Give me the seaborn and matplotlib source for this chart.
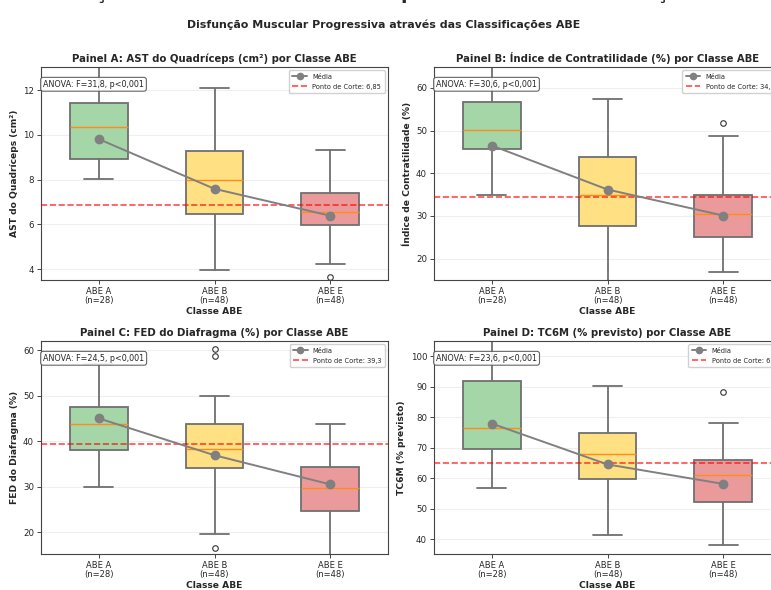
import numpy as np
import pandas as pd
import matplotlib
matplotlib.use("Agg")
import matplotlib.pyplot as plt
import seaborn as sns

# ---------------- data ----------------
categories = ["ABE A", "ABE B", "ABE E"]
n_counts = [28, 48, 48]
box_colors = ["#a5d6a7", "#ffe082", "#ea9a9b"]

# five-number summaries per class: [lower whisker, Q1, median, Q3, upper whisker]
ast_stats = [[8.01, 8.92, 10.33, 11.43, 13.3],
             [3.95, 6.45, 7.97, 9.29, 12.10],
             [4.25, 5.96, 6.57, 7.42, 9.33]]
ast_outliers = [[], [], [3.64]]
ast_means = [9.81, 7.59, 6.39]
ast_cut = 6.85

ic_stats = [[34.9, 45.8, 50.1, 56.7, 66.0],
            [13.5, 27.6, 35.0, 43.8, 57.4],
            [16.8, 25.0, 30.4, 35.0, 48.8]]
ic_outliers = [[], [], [51.8]]
ic_means = [46.5, 36.2, 30.1]
ic_cut = 34.5

fed_stats = [[29.9, 38.1, 43.8, 47.5, 57.0],
             [19.7, 34.0, 38.3, 43.8, 50.0],
             [12.0, 24.6, 29.6, 34.4, 43.8]]
fed_outliers = [[], [60.3, 58.7, 16.6], []]
fed_means = [45.0, 36.9, 30.5]
fed_cut = 39.3

tc_stats = [[56.9, 69.7, 76.5, 91.8, 107.0],
            [41.4, 59.6, 67.9, 74.9, 90.1],
            [37.9, 52.1, 60.9, 65.8, 78.1]]
tc_outliers = [[], [], [88.1]]
tc_means = [77.9, 64.5, 58.1]
tc_cut = 65

panel_titles = ["Painel A: AST do Quadríceps (cm²) por Classe ABE",
                "Painel B: Índice de Contratilidade (%) por Classe ABE",
                "Painel C: FED do Diafragma (%) por Classe ABE",
                "Painel D: TC6M (% previsto) por Classe ABE"]
y_labels = ["AST do Quadríceps (cm²)", "Índice de Contratilidade (%)",
            "FED do Diafragma (%)", "TC6M (% previsto)"]
anova_texts = ["ANOVA: F=31,8, p<0,001", "ANOVA: F=30,6, p<0,001",
               "ANOVA: F=24,5, p<0,001", "ANOVA: F=23,6, p<0,001"]
cut_labels = ["Ponto de Corte: 6,85", "Ponto de Corte: 34,5",
              "Ponto de Corte: 39,3", "Ponto de Corte: 65"]
y_limits = [(3.52, 13.03), (15.0, 64.9), (15.2, 62.0), (35.1, 105.0)]
y_ticks = [[4, 6, 8, 10, 12], [20, 30, 40, 50, 60],
           [20, 30, 40, 50, 60], [40, 50, 60, 70, 80, 90, 100]]

main_title = "Avaliação Muscular Periférica e Respiratória entre Classificações ABE"
sub_title = "Disfunção Muscular Progressiva através das Classificações ABE"


def summary_frame(stats, outliers):
    """Long-form table whose quartiles/whiskers equal the read summaries."""
    rows = []
    for cat, s, outs in zip(categories, stats, outliers):
        lo, q1, med, q3, hi = s
        vals = [lo] + [q1] * 5 + [med] * 5 + [q3] * 5 + [hi] + list(outs)
        rows += [(cat, v) for v in vals]
    return pd.DataFrame(rows, columns=["Classe", "Valor"])


sns.set_style("ticks")
plt.rcParams["font.family"] = ["DejaVu Sans"]

fig = plt.figure(figsize=(7.71, 5.90), dpi=100)

W = 347 / 771
H = 213 / 590
positions = [(41 / 771, 310 / 590), (434 / 771, 310 / 590),
             (41 / 771, 36 / 590), (434 / 771, 36 / 590)]

panels = [(ast_stats, ast_outliers, ast_means, ast_cut),
          (ic_stats, ic_outliers, ic_means, ic_cut),
          (fed_stats, fed_outliers, fed_means, fed_cut),
          (tc_stats, tc_outliers, tc_means, tc_cut)]

palette = dict(zip(categories, box_colors))
tick_labels = [f"{c}\n(n={n})" for c, n in zip(categories, n_counts)]

for i, ((stats, outs, means, cut), (l, b)) in enumerate(zip(panels, positions)):
    ax = fig.add_axes([l, b, W, H])
    df = summary_frame(stats, outs)
    sns.boxplot(data=df, x="Classe", y="Valor", hue="Classe", order=categories,
                palette=palette, saturation=1, width=0.5, legend=False,
                linecolor="#707070", linewidth=1.3,
                medianprops=dict(color="#ff8c1a", linewidth=1.0),
                flierprops=dict(marker="o", markerfacecolor="none",
                                markeredgecolor="#333333", markersize=4,
                                markeredgewidth=0.8),
                ax=ax)
    ax.plot(range(len(categories)), means, marker="o", color="gray",
            linewidth=1.4, markersize=6, label="Média", zorder=6)
    ax.axhline(cut, color="red", linestyle="--", alpha=0.7, linewidth=1.2,
               label=cut_labels[i], zorder=4)
    ax.set_ylim(*y_limits[i])
    ax.set_xlim(-0.5, 2.5)
    ax.set_yticks(y_ticks[i])
    ax.set_xticks(range(len(categories)))
    ax.set_xticklabels(tick_labels, fontsize=6, linespacing=1.0)
    ax.tick_params(axis="y", labelsize=6.2, length=3, width=0.6, pad=2)
    ax.tick_params(axis="x", length=3, width=0.6, pad=2)
    ax.grid(axis="y", alpha=0.3, linewidth=0.8)
    ax.set_axisbelow(True)
    for sp in ax.spines.values():
        sp.set_color("#444444")
        sp.set_linewidth(0.8)
    ax.set_title(panel_titles[i], fontsize=7.3, fontweight="bold", pad=3.5)
    ax.set_ylabel(y_labels[i], fontsize=6.6, fontweight="bold", labelpad=3)
    ax.set_xlabel("Classe ABE", fontsize=6.6, fontweight="bold", labelpad=1.5)
    ax.text(0.006, 0.94, anova_texts[i], transform=ax.transAxes, fontsize=5.8,
            va="top", ha="left",
            bbox=dict(boxstyle="round,pad=0.3", facecolor="white",
                      edgecolor="#555555", alpha=0.9, linewidth=0.8))
    ax.legend(loc="upper right", fontsize=4.8, frameon=True, framealpha=0.9,
              borderpad=0.5, handlelength=2.2, labelspacing=0.6,
              markerscale=0.75)

fig.text(0.508, 1 + 1 / 590, main_title, ha="center", va="baseline",
         fontsize=13.2, fontweight="bold")
fig.text(0.497, 1 - 25 / 590, sub_title, ha="center", va="center",
         fontsize=7.9, fontweight="bold")

fig.savefig("out.png", dpi=100)
